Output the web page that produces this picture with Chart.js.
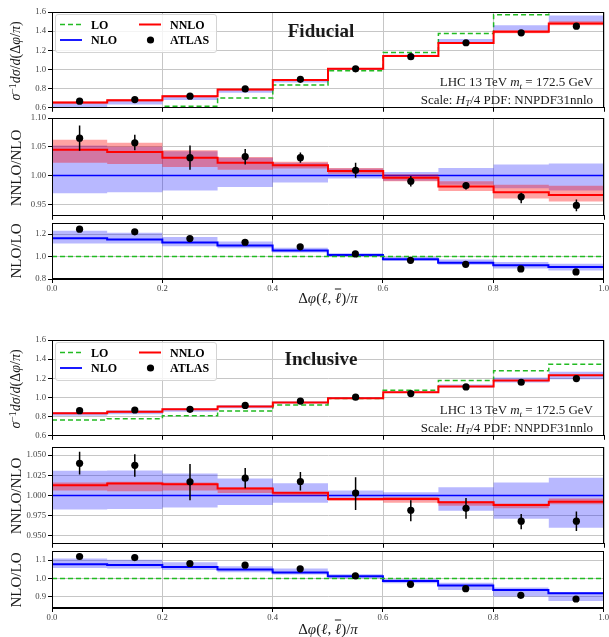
<!DOCTYPE html>
<html><head><meta charset="utf-8">
<script src="https://cdn.jsdelivr.net/npm/chart.js@4.4.1/dist/chart.umd.min.js"></script>
<style>
html,body{margin:0;padding:0;background:#fff;}
body{width:609px;height:637px;position:relative;overflow:hidden;font-family:"Liberation Serif","DejaVu Serif",serif;}
canvas{position:absolute;left:0;z-index:1;}
.t{position:absolute;white-space:nowrap;color:#1a1a1a;line-height:1;z-index:4;}
.c{transform:translate(-50%,-50%);}
.r{transform:translate(-100%,-50%);}
.rot{transform:translate(-50%,-50%) rotate(-90deg);}
.sup{font-size:0.7em;position:relative;top:-0.45em;}
.sub{font-size:0.7em;position:relative;top:0.3em;}
.leg{position:absolute;background:rgba(255,255,255,0.8);border:1px solid #d4d4d4;border-radius:3px;z-index:2;}
.lt{position:absolute;font-weight:bold;font-size:12px;transform:translateY(-50%);z-index:4;line-height:1;white-space:nowrap;}
</style></head><body>
<script>
// ---------- data ----------
const binEdges = [0.0,0.1,0.2,0.3,0.4,0.5,0.6,0.7,0.8,0.9,1.0];
const binCenters = [0.05,0.15,0.25,0.35,0.45,0.55,0.65,0.75,0.85,0.95];
const xTickValues = [0.0,0.2,0.4,0.6,0.8,1.0];
const xTickLabels = ['0.0','0.2','0.4','0.6','0.8','1.0'];
const yTicksMain = ['0.6','0.8','1.0','1.2','1.4','1.6'];
const yTicksFidRatio = ['0.95','1.00','1.05','1.10'];
const yTicksFidK = ['0.8','1.0','1.2'];
const yTicksIncRatio = ['0.950','0.975','1.000','1.025','1.050'];
const yTicksIncK = ['0.9','1.0','1.1'];
const unity = 1.0;

// Fiducial: normalised distribution
const fidLO = [0.539,0.566,0.617,0.703,0.838,0.986,1.176,1.376,1.572,1.688];
const fidNLO = [0.627,0.652,0.699,0.773,0.874,0.999,1.146,1.301,1.435,1.531];
const fidNLOLow = [0.608,0.633,0.681,0.758,0.864,0.994,1.136,1.280,1.403,1.491];
const fidNLOHigh = [0.660,0.685,0.728,0.797,0.893,1.011,1.153,1.318,1.462,1.563];
const fidNNLO = [0.655,0.679,0.721,0.790,0.890,1.007,1.141,1.276,1.393,1.479];
const fidNNLOLow = [0.641,0.665,0.709,0.781,0.884,1.002,1.135,1.266,1.378,1.462];
const fidNNLOHigh = [0.666,0.689,0.730,0.798,0.895,1.012,1.148,1.288,1.412,1.503];
const fidATLAS = [0.669,0.686,0.721,0.797,0.897,1.007,1.134,1.279,1.383,1.452];
const fidATLASErr = [0.015,0.009,0.015,0.011,0.008,0.013,0.011,0.008,0.013,0.016];
// Fiducial: NNLO/NLO
const fidRatioNNLO = [1.045,1.041,1.031,1.022,1.018,1.008,0.996,0.981,0.971,0.966];
const fidRatioNNLOLow = [1.022,1.020,1.015,1.010,1.012,1.003,0.990,0.973,0.960,0.955];
const fidRatioNNLOHigh = [1.062,1.057,1.044,1.032,1.024,1.013,1.002,0.990,0.984,0.982];
const fidRatioNLOLow = [0.969,0.971,0.974,0.980,0.988,0.995,0.991,0.984,0.978,0.974];
const fidRatioNLOHigh = [1.052,1.050,1.042,1.031,1.022,1.012,1.006,1.013,1.019,1.021];
const fidRatioATLAS = [1.065,1.057,1.031,1.033,1.031,1.009,0.990,0.9825,0.963,0.948];
const fidRatioATLASLow = [1.043,1.044,1.010,1.019,1.022,0.996,0.981,0.9755,0.952,0.938];
const fidRatioATLASHigh = [1.087,1.071,1.052,1.046,1.040,1.022,0.999,0.988,0.970,0.9585];
// Fiducial: NLO/LO
const fidKNLO = [1.164,1.152,1.125,1.099,1.054,1.015,0.976,0.946,0.922,0.907];
const fidKNLOLow = [1.116,1.116,1.093,1.075,1.036,1.000,0.964,0.928,0.893,0.875];
const fidKNLOHigh = [1.230,1.212,1.176,1.134,1.078,1.030,0.997,0.973,0.952,0.937];
const fidKATLAS = [1.245,1.221,1.161,1.128,1.087,1.024,0.967,0.931,0.890,0.863];
const fidKATLASErr = [0.020,0.013,0.020,0.015,0.010,0.014,0.010,0.008,0.012,0.016];

// Inclusive: normalised distribution
const incLO = [0.766,0.779,0.810,0.859,0.921,0.990,1.076,1.176,1.279,1.348];
const incNLO = [0.824,0.840,0.864,0.899,0.945,0.997,1.060,1.124,1.190,1.241];
const incNLOLow = [0.809,0.826,0.851,0.888,0.936,0.993,1.054,1.103,1.155,1.191];
const incNLOHigh = [0.849,0.866,0.887,0.918,0.959,1.003,1.064,1.135,1.209,1.268];
const incNNLO = [0.834,0.852,0.876,0.907,0.948,0.993,1.055,1.114,1.176,1.231];
const incNNLOLow = [0.829,0.844,0.869,0.902,0.945,0.990,1.050,1.109,1.171,1.227];
const incNNLOHigh = [0.837,0.854,0.878,0.908,0.949,0.994,1.058,1.116,1.178,1.236];
const incATLAS = [0.862,0.869,0.876,0.917,0.962,1.003,1.041,1.110,1.159,1.197];
const incATLASErr = [0.012,0.012,0.020,0.011,0.011,0.020,0.013,0.014,0.011,0.015];
// Inclusive: NNLO/NLO
const incRatioNNLO = [1.0127,1.0148,1.0139,1.0086,1.0033,0.9955,0.9955,0.9914,0.9881,0.9922];
const incRatioNNLOLow = [1.006,1.005,1.006,1.003,1.000,0.993,0.991,0.987,0.984,0.989];
const incRatioNNLOHigh = [1.016,1.017,1.016,1.010,1.004,0.997,0.998,0.993,0.990,0.996];
const incRatioNLOLow = [0.9824,0.983,0.985,0.988,0.991,0.996,0.994,0.981,0.971,0.960];
const incRatioNLOHigh = [1.0307,1.031,1.027,1.021,1.015,1.006,1.004,1.010,1.016,1.022];
const incRatioATLAS = [1.0398,1.0373,1.0168,1.0213,1.0172,1.0029,0.9816,0.984,0.968,0.968];
const incRatioATLASLow = [1.026,1.023,0.994,1.009,1.006,0.982,0.968,0.971,0.958,0.9557];
const incRatioATLASHigh = [1.054,1.051,1.039,1.034,1.029,1.0225,0.994,0.9967,0.977,0.980];
// Inclusive: NLO/LO
const incKNLO = [1.078,1.0745,1.0636,1.049,1.033,1.0127,0.987,0.962,0.938,0.920];
const incKNLOLow = [1.058,1.055,1.047,1.035,1.022,1.002,0.975,0.938,0.902,0.878];
const incKNLOHigh = [1.109,1.102,1.089,1.067,1.055,1.024,0.998,0.978,0.951,0.927];
const incKATLAS = [1.120,1.1145,1.082,1.073,1.053,1.0145,0.969,0.945,0.909,0.889];
const incKATLASErr = [0.006,0.006,0.012,0.006,0.006,0.011,0.006,0.006,0.006,0.007];

// ---------- styles ----------
const COL = {
  blue:'#0000ff', red:'#ff0000', green:'#22bb22',
  blueBand:'rgba(0,0,255,0.28)', redBand:'rgba(255,0,0,0.36)',
  grid:'#c6c6c6', tick:'#444'
};
Chart.defaults.font.family = "'Liberation Serif', 'DejaVu Serif', serif";
Chart.defaults.font.size = 8.7;

// ---------- helpers building library datasets from arrays ----------
function stepPts(vals){
  const pts = vals.map((v,i)=>({x:binEdges[i], y:v}));
  pts.push({x:binEdges[binEdges.length-1], y:vals[vals.length-1]});
  return pts;
}
function stepLine(vals,color,width,order,dash){
  return {data:stepPts(vals), borderColor:color, borderWidth:width, borderDash:dash||[],
          pointRadius:0, stepped:true, fill:false, order:order};
}
function flatLine(v,color,width,order,dash){
  return {data:[{x:binEdges[0],y:v},{x:binEdges[binEdges.length-1],y:v}], borderColor:color,
          borderWidth:width, borderDash:dash||[], pointRadius:0, fill:false, order:order};
}
function band(lo,hi,color,order){
  return [
    {data:stepPts(lo), borderColor:'rgba(0,0,0,0)', borderWidth:0, pointRadius:0, stepped:true, fill:false, order:order},
    {data:stepPts(hi), borderColor:'rgba(0,0,0,0)', borderWidth:0, pointRadius:0, stepped:true, fill:'-1', backgroundColor:color, order:order}
  ];
}
function errBars(lo,hi,order){
  const pts=[];
  binCenters.forEach((x,i)=>{pts.push({x:x,y:lo[i]});pts.push({x:x,y:hi[i]});pts.push({x:x,y:null});});
  return {data:pts, borderColor:'#000', borderWidth:1.5, pointRadius:0, spanGaps:false, fill:false, order:order};
}
function symErr(vals,err,order){
  return errBars(vals.map((v,i)=>v-err[i]), vals.map((v,i)=>v+err[i]), order);
}
function points(vals,order){
  return {data:binCenters.map((x,i)=>({x:x,y:vals[i]})), showLine:false, pointRadius:3.6,
          pointBackgroundColor:'#000', pointBorderColor:'#000', pointBorderWidth:0, borderColor:'#000', order:order};
}

const framePlugin = {id:'frame', afterDraw(chart){
  const a = chart.chartArea, ctx = chart.ctx;
  ctx.save(); ctx.strokeStyle='#000'; ctx.lineWidth=1;
  ctx.strokeRect(Math.round(a.left)+0.5, Math.round(a.top)+0.5, Math.round(a.right-a.left)-1, Math.round(a.bottom-a.top)-1);
  ctx.restore();
}};

function panel(o){
  const padT = 8;
  const H = (o.bottom - o.top) + padT + o.xh;
  const cv = document.createElement('canvas');
  cv.width = 609; cv.height = H;
  cv.style.width='609px'; cv.style.height=H+'px'; cv.style.top=(o.top-padT)+'px';
  document.body.appendChild(cv);
  new Chart(cv.getContext('2d'), {
    type:'line',
    data:{datasets:o.datasets},
    options:{
      responsive:false, animation:false, devicePixelRatio:1,
      layout:{padding:{top:padT,left:0,right:5,bottom:0}, autoPadding:false},
      plugins:{legend:{display:false}, tooltip:{enabled:false}},
      scales:{
        x:{type:'linear', min:0, max:1,
           afterFit:s=>{s.height=o.xh;},
           afterBuildTicks:s=>{s.ticks = xTickValues.map(v=>({value:v}));},
           ticks:{display:o.showX, autoSkip:false, maxRotation:0, padding:0, color:COL.tick,
                  callback:(v,i)=>xTickLabels[i]},
           grid:{color:COL.grid, lineWidth:1, tickLength:4, tickColor:'#000', tickWidth:1},
           border:{display:true, color:'#000', width:1}},
        y:{type:'linear', min:o.ymin, max:o.ymax,
           afterFit:s=>{s.width=52;},
           afterBuildTicks:s=>{s.ticks = o.yt.map(t=>({value:parseFloat(t)}));},
           ticks:{autoSkip:false, padding:2, color:COL.tick, callback:(v,i)=>o.yt[i]},
           grid:{color:COL.grid, lineWidth:1, tickLength:4, tickColor:'#000', tickWidth:1},
           border:{display:true, color:'#000', width:1}}
      }
    },
    plugins:[framePlugin]
  });
}

function mainSets(LO,NLOl,NLOh,NNLOl,NNLOh,NNLO,ATL,ATLe){
  return [
    stepLine(LO,COL.green,1.5,7,[5,3]),
    ...band(NLOl,NLOh,COL.blueBand,6),
    ...band(NNLOl,NNLOh,COL.redBand,4),
    stepLine(NNLO,COL.red,2,3),
    symErr(ATL,ATLe,1),
    points(ATL,0)
  ];
}
function ratioSets(NLOl,NLOh,NNLOl,NNLOh,NNLO,A,Al,Ah){
  return [
    ...band(NLOl,NLOh,COL.blueBand,6),
    flatLine(unity,COL.blue,1.5,5),
    ...band(NNLOl,NNLOh,COL.redBand,4),
    stepLine(NNLO,COL.red,2,3),
    errBars(Al,Ah,1),
    points(A,0)
  ];
}
function kSets(Kl,Kh,K,A,Ae){
  return [
    ...band(Kl,Kh,COL.blueBand,6),
    stepLine(K,COL.blue,2,5),
    flatLine(unity,COL.green,1.5,4,[5,3]),
    symErr(A,Ae,1),
    points(A,0)
  ];
}

// ---------- Fiducial ----------
panel({top:12,bottom:109,xh:6,showX:false,ymin:0.6,ymax:1.6,yt:yTicksMain,
  datasets:mainSets(fidLO,fidNLOLow,fidNLOHigh,fidNNLOLow,fidNNLOHigh,fidNNLO,fidATLAS,fidATLASErr)});
panel({top:118,bottom:217,xh:6,showX:false,ymin:0.93,ymax:1.10,yt:yTicksFidRatio,
  datasets:ratioSets(fidRatioNLOLow,fidRatioNLOHigh,fidRatioNNLOLow,fidRatioNNLOHigh,fidRatioNNLO,fidRatioATLAS,fidRatioATLASLow,fidRatioATLASHigh)});
panel({top:223,bottom:279,xh:16,showX:true,ymin:0.8,ymax:1.3,yt:yTicksFidK,
  datasets:kSets(fidKNLOLow,fidKNLOHigh,fidKNLO,fidKATLAS,fidKATLASErr)});

// ---------- Inclusive ----------
panel({top:340,bottom:437,xh:6,showX:false,ymin:0.6,ymax:1.6,yt:yTicksMain,
  datasets:mainSets(incLO,incNLOLow,incNLOHigh,incNNLOLow,incNNLOHigh,incNNLO,incATLAS,incATLASErr)});
panel({top:447,bottom:545,xh:6,showX:false,ymin:0.94,ymax:1.06,yt:yTicksIncRatio,
  datasets:ratioSets(incRatioNLOLow,incRatioNLOHigh,incRatioNNLOLow,incRatioNNLOHigh,incRatioNNLO,incRatioATLAS,incRatioATLASLow,incRatioATLASHigh)});
panel({top:551,bottom:608,xh:16,showX:true,ymin:0.84,ymax:1.15,yt:yTicksIncK,
  datasets:kSets(incKNLOLow,incKNLOHigh,incKNLO,incKATLAS,incKATLASErr)});

// ---------- text & legends ----------
function addText(html,x,y,cls,size,extra){
  const d=document.createElement('div');
  d.className='t '+cls; d.innerHTML=html;
  d.style.left=x+'px'; d.style.top=y+'px'; d.style.fontSize=size+'px';
  if(extra) d.style.cssText+=extra;
  document.body.appendChild(d);
}
function legend(T){
  const box=document.createElement('div'); box.className='leg';
  box.style.left='55px'; box.style.top=(T+2)+'px'; box.style.width='160px'; box.style.height='37px';
  document.body.appendChild(box);
  const ns='http://www.w3.org/2000/svg';
  const svg=document.createElementNS(ns,'svg');
  svg.setAttribute('width','220'); svg.setAttribute('height','50');
  svg.style.cssText='position:absolute;left:0;top:'+T+'px;z-index:3;';
  svg.innerHTML =
    '<line x1="60" x2="82" y1="12.5" y2="12.5" stroke="'+COL.green+'" stroke-width="1.6" stroke-dasharray="5,3"/>'+
    '<line x1="60" x2="82" y1="28" y2="28" stroke="'+COL.blue+'" stroke-width="1.8"/>'+
    '<line x1="139" x2="161" y1="12.5" y2="12.5" stroke="'+COL.red+'" stroke-width="2"/>'+
    '<circle cx="150.5" cy="28" r="3.6" fill="#000"/>';
  document.body.appendChild(svg);
  [['LO',91,12.5],['NLO',91,28],['NNLO',170,12.5],['ATLAS',170,28]].forEach(a=>{
    const s=document.createElement('div'); s.className='lt'; s.textContent=a[0];
    s.style.left=a[1]+'px'; s.style.top=(T+a[2])+'px'; document.body.appendChild(s);
  });
}
const yMainTitle = '<i>σ</i><span class="sup">−1</span><i>dσ</i>/<i>d</i>(Δ<i>φ</i>/<i>π</i>)';
const xTitle = 'Δ<i>φ</i>(<i>ℓ</i>, <i style="text-decoration:overline">ℓ</i>)/<i>π</i>';
const lhcText = 'LHC 13 TeV <i>m</i><span class="sub"><i>t</i></span> = 172.5 GeV';
const scaleText = 'Scale: <i>H</i><span class="sub"><i>T</i></span>/4 PDF: NNPDF31nnlo';

[[12,'Fiducial',118,223,279,298],[340,'Inclusive',447,551,608,628.5]].forEach(f=>{
  const T=f[0];
  legend(T);
  addText(f[1],321,T+18,'c',19,'font-weight:bold;');
  addText(lhcText,593,T+70,'r',13);
  addText(scaleText,593,T+87.5,'r',13);
  addText(yMainTitle,16,T+48.5,'rot',14);
  addText('NNLO/NLO',16,(f[2]+f[3]-6)/2,'rot',15);
  addText('NLO/LO',16,(f[3]+f[4])/2,'rot',15);
  addText(xTitle,328,f[5],'c',15);
});
</script>
</body></html>
